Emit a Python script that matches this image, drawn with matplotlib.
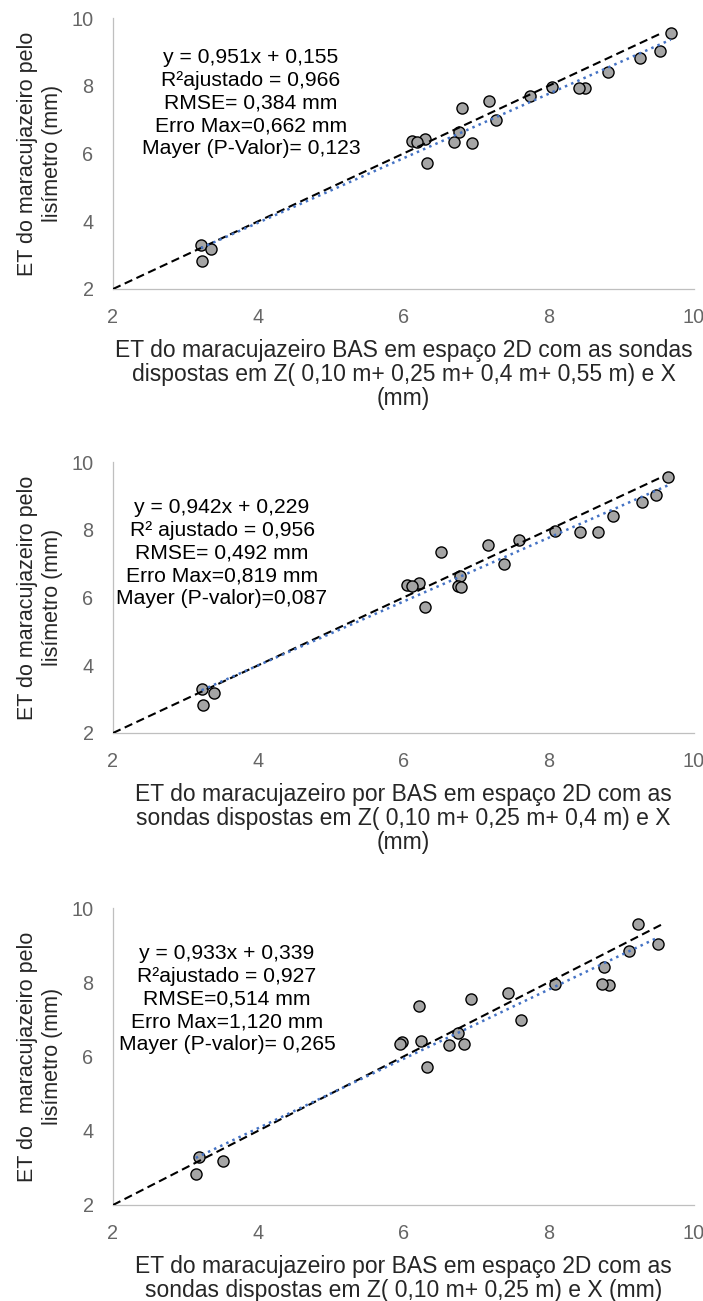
import numpy as np
import matplotlib
matplotlib.use('Agg')
import matplotlib.pyplot as plt

plt.rcParams['font.family'] = ['Liberation Sans', 'DejaVu Sans']

# ET do lisimetro (mesma para os tres graficos)
et_lisimetro = [9.57, 9.02, 8.83, 8.40, 7.92, 7.94, 7.96, 7.71, 7.56, 6.98, 7.35,
                6.63, 6.35, 6.30, 6.43, 6.38, 6.35, 5.72, 3.30, 3.18, 2.83]

# ET estimada por BAS, uma lista por configuracao de sondas
et_bas_z4 = [9.68, 9.53, 9.25, 8.81, 8.50, 8.42, 8.04, 7.74, 7.18, 7.28, 6.80,
             6.77, 6.70, 6.95, 6.29, 6.12, 6.18, 6.32, 3.21, 3.35, 3.22]
et_bas_z3 = [9.64, 9.48, 9.29, 8.88, 8.68, 8.43, 8.09, 7.59, 7.17, 7.38, 6.52,
             6.78, 6.75, 6.79, 6.21, 6.05, 6.12, 6.30, 3.22, 3.39, 3.24]
et_bas_z2 = [9.23, 9.51, 9.11, 8.76, 8.83, 8.73, 8.09, 7.44, 6.93, 7.62, 6.22,
             6.75, 6.83, 6.63, 6.24, 5.98, 5.95, 6.33, 3.19, 3.52, 3.14]

coeficientes = [(0.951, 0.155), (0.942, 0.229), (0.933, 0.339)]

textos = [
    "y = 0,951x + 0,155\nR²ajustado = 0,966\nRMSE= 0,384 mm\nErro Max=0,662 mm\nMayer (P-Valor)= 0,123",
    "y = 0,942x + 0,229\nR² ajustado = 0,956\nRMSE= 0,492 mm\nErro Max=0,819 mm\nMayer (P-valor)=0,087",
    "y = 0,933x + 0,339\nR²ajustado = 0,927\nRMSE=0,514 mm\nErro Max=1,120 mm\nMayer (P-valor)= 0,265",
]

xlabels = [
    "ET do maracujazeiro BAS em espaço 2D com as sondas\ndispostas em Z( 0,10 m+ 0,25 m+ 0,4 m+ 0,55 m) e X\n(mm)",
    "ET do maracujazeiro por BAS em espaço 2D com as\nsondas dispostas em Z( 0,10 m+ 0,25 m+ 0,4 m) e X\n(mm)",
    "ET do maracujazeiro por BAS em espaço 2D com as\nsondas dispostas em Z( 0,10 m+ 0,25 m) e X (mm)",
]
ylabels = [
    "ET do maracujazeiro pelo\nlisímetro (mm)",
    "ET do maracujazeiro pelo\nlisímetro (mm)",
    "ET do  maracujazeiro pelo\nlisímetro (mm)",
]
ticks = [2, 4, 6, 8, 10]

W, H = 703, 1301
# (topo, base) de cada area de plotagem em pixels, e posicao do texto
paineis = [(18, 289), (462, 733), (908, 1205)]
pos_texto = [(251, 103), (222, 553), (227, 999)]
x_esq, x_dir = 113, 694

fig = plt.figure(figsize=(W / 100, H / 100), dpi=100)
series_x = [et_bas_z4, et_bas_z3, et_bas_z2]

for i, (topo, base) in enumerate(paineis):
    alt = base - topo
    ax = fig.add_axes([x_esq / W, (H - base) / H, (x_dir - x_esq) / W, alt / H])
    x = np.array(series_x[i])
    y = np.array(et_lisimetro)
    a, b = coeficientes[i]

    ax.plot(x, y, 'o', ms=8, mfc='#A5A5A5', mec='black', mew=1.0, ls='none', zorder=2)
    lim = max(et_lisimetro)
    ax.plot([2, lim], [2, lim], color='black', lw=1.5, ls=(0, (4, 2.2)), zorder=3)
    xt = np.array([x.min(), x.max()])
    ax.plot(xt, a * xt + b, color='#4472C4', lw=1.8, ls=(0, (1, 1.7)), zorder=4)

    ax.set_xlim(2, 10)
    ax.set_ylim(2, 10)
    ax.set_xticks(ticks)
    ax.set_yticks(ticks)
    for s in ['top', 'right']:
        ax.spines[s].set_visible(False)
    for s in ['left', 'bottom']:
        ax.spines[s].set_color('#BFBFBF')
        ax.spines[s].set_linewidth(0.9)
    ax.tick_params(length=0, labelsize=14.3, labelcolor='#666666', pad=14)

    ax.set_xlabel(xlabels[i], fontsize=16.5, color='#262626', linespacing=1.05)
    ax.xaxis.set_label_coords(0.5, -50 / alt)
    ax.set_ylabel(ylabels[i], fontsize=15.5, color='#262626', linespacing=1.2)
    ax.yaxis.label.set_verticalalignment('center')
    ax.yaxis.set_label_coords((40 - x_esq) / (x_dir - x_esq), 0.5)

    tx, ty = pos_texto[i]
    ax.text((tx - x_esq) / (x_dir - x_esq), (base - ty) / alt, textos[i],
            transform=ax.transAxes, ha='center', va='center', multialignment='center',
            fontsize=15.2, color='black', linespacing=1.25)

fig.savefig('out.png', dpi=100)
